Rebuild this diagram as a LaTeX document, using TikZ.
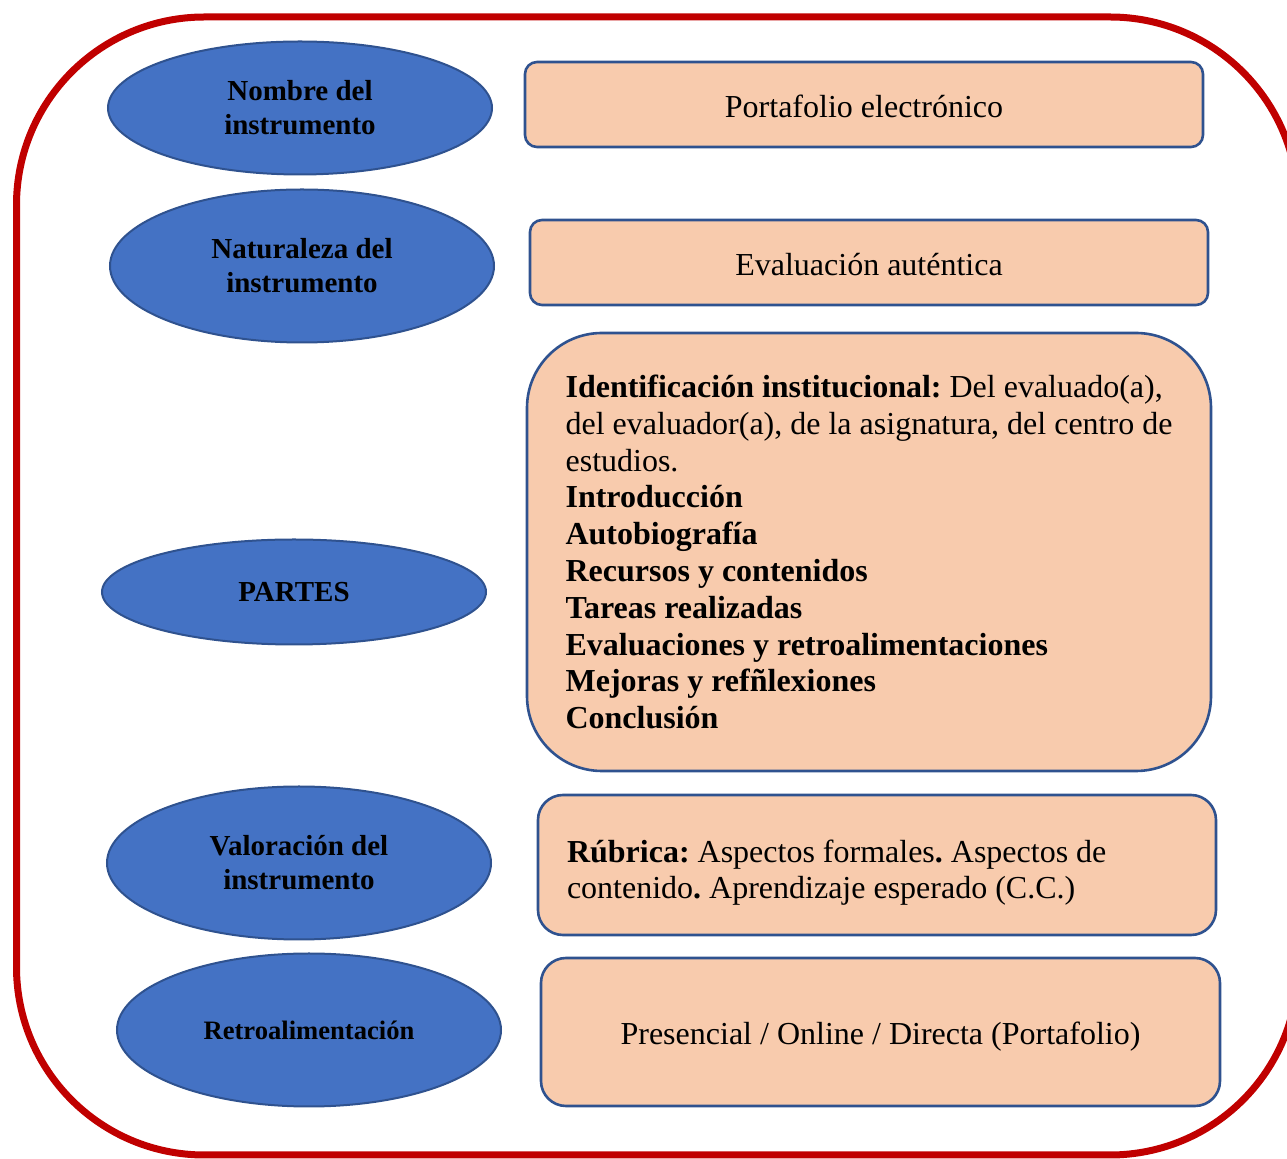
\documentclass[tikz,border=0pt]{standalone}
\usepackage{fontspec}
\setmainfont{Liberation Serif}
\usetikzlibrary{shapes.geometric}
\definecolor{azul}{HTML}{4472C4}
\definecolor{azulborde}{HTML}{2F528F}
\definecolor{salmon}{HTML}{F8CBAD}
\definecolor{rojo}{HTML}{C00000}
\frenchspacing
\tikzset{etiqueta/.style={ellipse, draw=azulborde, line width=1pt, fill=azul, inner sep=0pt, minimum width=192pt, align=center, font=\fontsize{14.5}{17}\selectfont\bfseries},
caja/.style={draw=azulborde, line width=1.3pt, fill=salmon, rounded corners=6pt, minimum width=339pt, align=center, font=\fontsize{16}{18.4}\selectfont},
cajasimple/.style={caja, text height=16pt, text depth=3pt},
marco/.style={draw=rojo, line width=3.5pt, rounded corners=94pt}}

\begin{document}
\begin{tikzpicture}[x=0.5pt,y=-0.5pt]
\useasboundingbox (0,0) rectangle (1287,1159);
\clip (0,0) rectangle (1287,1159);
% Marco
\draw[marco] (16.5,17) rectangle (1298,1155);
% Elipses
\node[etiqueta, minimum height=66.5pt] (nombre) at (300,108) {Nombre del\\instrumento};
\node[etiqueta, minimum height=76.5pt] (naturaleza) at (302,266) {Naturaleza del\\instrumento};
\node[etiqueta, minimum height=52.5pt] (partes) at (294,592) {PARTES};
\node[etiqueta, minimum height=76.5pt] (valoracion) at (299,863) {Valoración del\\instrumento};
\node[etiqueta, minimum height=76.5pt, font=\fontsize{13.3}{16}\selectfont\bfseries] (retro) at (309,1030) {Retroalimentación};
% Cajas
\node[cajasimple, minimum height=42.5pt] (portafolio) at (864,104.5) {Portafolio electrónico};
\node[cajasimple, minimum height=42.5pt] (autentica) at (869,262.5) {Evaluación auténtica};
\node[caja, rounded corners=37.5pt, minimum width=342pt, minimum height=219pt, align=left] (contenido) at (869,552)
  {\textbf{Identificación institucional:} Del evaluado(a),\\
   del evaluador(a), de la asignatura, del centro de\\
   estudios.\\
   \textbf{Introducción}\\
   \textbf{Autobiografía}\\
   \textbf{Recursos y contenidos}\\
   \textbf{Tareas realizadas}\\
   \textbf{Evaluaciones y retroalimentaciones}\\
   \textbf{Mejoras y refñlexiones}\\
   \textbf{Conclusión}};
\node[caja, rounded corners=12.5pt, minimum height=70pt, text width=310pt, inner xsep=14.5pt, align=flush left] (rubrica) at (877,865)
  {\rule{0pt}{19pt}\textbf{Rúbrica:} Aspectos formales\textbf{.} Aspectos de\\
   contenido\textbf{.} Aprendizaje esperado (C.C.)};
\node[cajasimple, rounded corners=12.5pt, minimum width=339.5pt, minimum height=74pt] (modalidad) at (880.5,1032) {Presencial / Online / Directa (Portafolio)};
\end{tikzpicture}
\end{document}
